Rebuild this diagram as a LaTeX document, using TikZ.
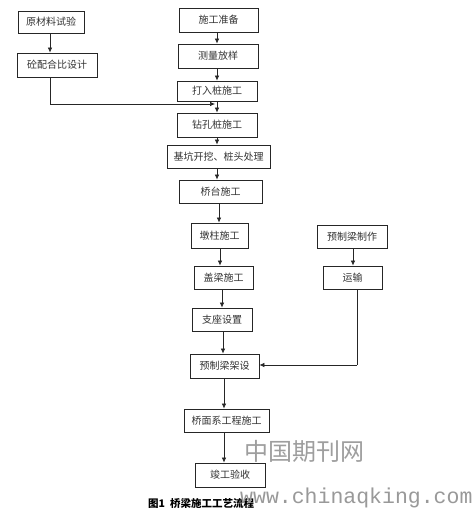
\documentclass[tikz,border=0pt]{standalone}
\usepackage{fontspec}
\newfontfamily\cjk{Noto Sans CJK SC}
\newfontfamily\wmono{Liberation Mono}
\usetikzlibrary{arrows.meta}
\begin{document}
\begin{tikzpicture}[x=1pt,y=-1pt,
  box/.style={draw=black!85,line width=0.8pt,inner sep=0pt,font=\cjk\fontsize{10}{12}\selectfont,text=black!80},
  arr/.style={draw=black!85,line width=0.7pt,-{Latex[length=5pt,width=4.5pt]}},
  ln/.style={draw=black!85,line width=0.7pt}]
\useasboundingbox[fill=white] (0,0) rectangle (472,510);
% left branch
\node[box,minimum width=66pt,minimum height=22pt] (a1) at (51,22) {原材料试验};
\node[box,minimum width=80pt,minimum height=24pt] (a2) at (57,65) {砼配合比设计};
% main column
\node[box,minimum width=79pt,minimum height=24pt] (b1) at (218.5,20) {施工准备};
\node[box,minimum width=80pt,minimum height=24pt] (b2) at (218,56) {测量放样};
\node[box,minimum width=80pt,minimum height=20pt] (b3) at (217,91) {打入桩施工};
\node[box,minimum width=80pt,minimum height=24pt] (b4) at (217,125) {钻孔桩施工};
\node[box,minimum width=103pt,minimum height=23pt] (b5) at (218.5,156.5) {基坑开挖、桩头处理};
\node[box,minimum width=83pt,minimum height=23pt] (b6) at (220.5,191.5) {桥台施工};
\node[box,minimum width=57pt,minimum height=25pt] (b7) at (219.5,235.5) {墩柱施工};
\node[box,minimum width=59pt,minimum height=23pt] (b8) at (223.5,277.5) {盖梁施工};
\node[box,minimum width=60pt,minimum height=23pt] (b9) at (222,319.5) {支座设置};
\node[box,minimum width=69pt,minimum height=24pt] (b10) at (224.5,366) {预制梁架设};
\node[box,minimum width=85pt,minimum height=23pt] (b11) at (226.5,420.5) {桥面系工程施工};
\node[box,minimum width=70pt,minimum height=24pt] (b12) at (230,475) {竣工验收};
% right branch
\node[box,minimum width=70pt,minimum height=23pt] (c1) at (352,236.5) {预制梁制作};
\node[box,minimum width=59pt,minimum height=23pt] (c2) at (352.5,277.5) {运输};
% x positions
\coordinate (xa) at (50,0);
\coordinate (x1) at (217,0);
\coordinate (x2) at (219,0);
\coordinate (x3) at (220,0);
\coordinate (x4) at (222,0);
\coordinate (x5) at (223,0);
\coordinate (x6) at (224,0);
\coordinate (xc) at (353,0);
\coordinate (xd) at (357,0);
\coordinate (j) at (215,104);
\coordinate (k) at (357,365);
% connectors
\draw[arr] (a1.south -| xa) -- (a2.north -| xa);
\draw[arr] (a2.south -| xa) |- (j);
\draw[arr] (b1.south -| x1) -- (b2.north -| x1);
\draw[arr] (b2.south -| x1) -- (b3.north -| x1);
\draw[arr] (b3.south -| x1) -- (b4.north -| x1);
\draw[arr] (b4.south -| x1) -- (b5.north -| x1);
\draw[arr] (b5.south -| x1) -- (b6.north -| x1);
\draw[arr] (b6.south -| x2) -- (b7.north -| x2);
\draw[arr] (b7.south -| x3) -- (b8.north -| x3);
\draw[arr] (b8.south -| x4) -- (b9.north -| x4);
\draw[arr] (b9.south -| x5) -- (b10.north -| x5);
\draw[arr] (b10.south -| x6) -- (b11.north -| x6);
\draw[arr] (b11.south -| x6) -- (b12.north -| x6);
\draw[arr] (c1.south -| xc) -- (c2.north -| xc);
\draw[ln] (c2.south -| xd) -- (k);
\draw[arr] (k) -- (b10.east |- k);
% caption and watermark
\node[anchor=west,inner sep=0pt,font=\cjk\bfseries\fontsize{10.5}{12}\selectfont] (cap) at (148,503) {图1\hspace{5pt}桥梁施工工艺流程};
\node[anchor=west,inner sep=0pt,text=black!38,font=\cjk\fontsize{24}{26}\selectfont] (wm1) at (244,451) {中国期刊网};
\node[anchor=west,inner sep=0pt,text=black!40,font=\wmono\fontsize{21.5}{23}\selectfont] (wm2) at (240,498) {www.chinaqking.com};
\end{tikzpicture}
\end{document}
